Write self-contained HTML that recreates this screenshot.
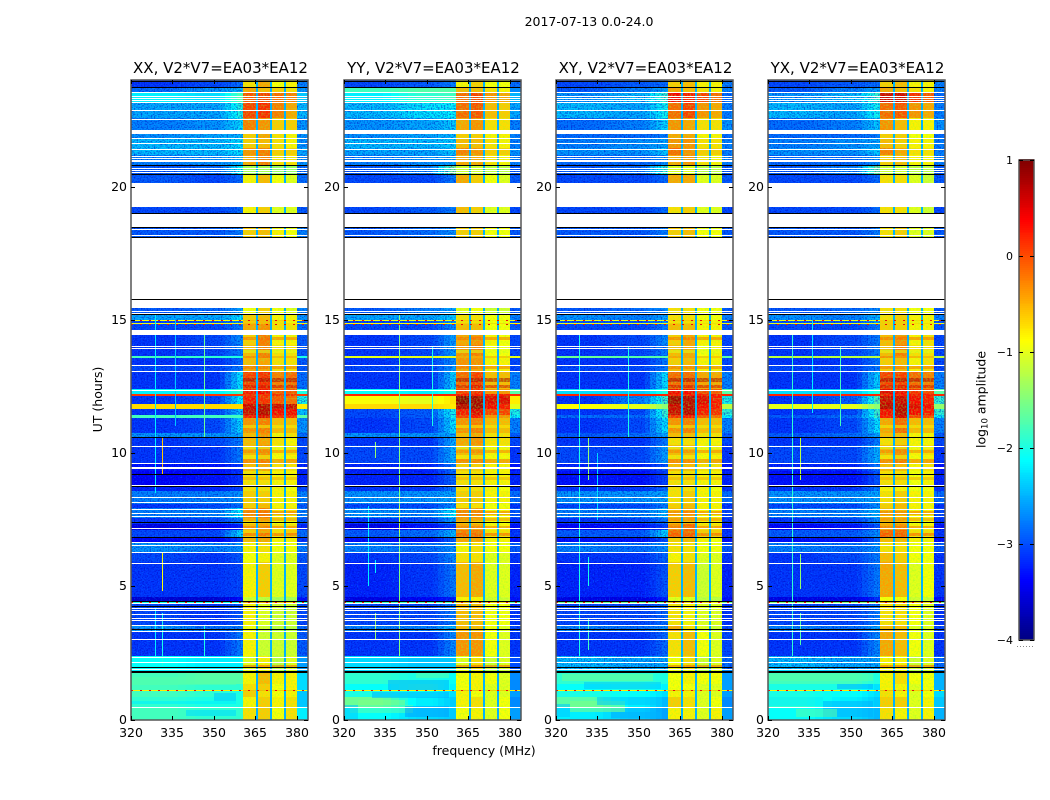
<!DOCTYPE html>
<html lang="en">
<head>
<meta charset="utf-8">
<title>2017-07-13 0.0-24.0</title>
<style>
html,body{margin:0;padding:0;background:#fff;width:1050px;height:800px;overflow:hidden}
svg{display:block}
text{font-family:"DejaVu Sans","Liberation Sans",sans-serif;fill:#000}
.cell{shape-rendering:crispEdges}
</style>
</head>
<body>
<svg id="figure" xmlns="http://www.w3.org/2000/svg" width="1050" height="800" viewBox="0 0 1050 800">
<defs>
<filter id="speckle" x="0" y="0" width="100%" height="100%" color-interpolation-filters="sRGB">
<feTurbulence type="fractalNoise" baseFrequency="0.75" numOctaves="1" seed="4"/>
<feColorMatrix type="matrix" values="0 0 0 0 0.02  0 0 0 0 0.5  0 0 0 0 1  3.4 0 0 0 -1.85"/>
</filter>
<filter id="speckle-dark" x="0" y="0" width="100%" height="100%" color-interpolation-filters="sRGB">
<feTurbulence type="fractalNoise" baseFrequency="0.7" numOctaves="1" seed="11"/>
<feColorMatrix type="matrix" values="0 0 0 0 0  0 0 0 0 0  0 0 0 0 0.75  3.4 0 0 0 -1.5"/>
</filter>
<filter id="speckle-band" x="0" y="0" width="100%" height="100%" color-interpolation-filters="sRGB">
<feTurbulence type="fractalNoise" baseFrequency="0.6" numOctaves="1" seed="7"/>
<feColorMatrix type="matrix" values="0 0 0 0 0.55  0 0 0 0 1  0 0 0 0 0.2  3 0 0 0 -1.25"/>
</filter>
</defs>
<text x="589" y="26" text-anchor="middle" font-size="12.5">2017-07-13 0.0-24.0</text>
<text x="484" y="755" text-anchor="middle" font-size="12.5">frequency (MHz)</text>
<text transform="translate(102 399.5) rotate(-90)" text-anchor="middle" font-size="12.5">UT (hours)</text>
<text transform="translate(985.5 399.5) rotate(-90)" text-anchor="middle" font-size="12.5">log<tspan font-size="8.5" dy="2">10</tspan><tspan dy="-2"> amplitude</tspan></text>
<g id="panels"></g>
<g id="colorbar"></g>
</svg>
<script>
// Time rows (UT hours)
const rowStart=[0,.43,.85,1.07,1.11,1.33,1.74,1.89,2.38,3.3,3.55,4.37,4.44,4.6,5.91,6.29,6.62,6.85,7.11,7.34,7.56,7.94,8.1,8.56,8.8,9.31,9.59,10.3,10.6,10.75,11.31,11.44,11.65,11.83,12.13,12.23,12.39,13.04,13.3,13.58,13.63,14.05,14.6,14.84,14.87,14.97,15,15.2,18.1,19,20.13,20.43,20.8,21.18,21.44,21.82,22.14,22.57,23.17,23.55,23.74];
const rowEnd=[.43,.85,1.07,1.11,1.33,1.74,1.89,2.38,3.3,3.55,4.37,4.44,4.6,5.91,6.29,6.62,6.85,7.11,7.34,7.56,7.94,8.1,8.56,8.8,9.31,9.59,10.3,10.6,10.75,11.31,11.44,11.65,11.83,12.13,12.23,12.39,13.04,13.3,13.58,13.63,14.05,14.43,14.84,14.87,14.97,15,15.2,15.44,18.48,19.23,20.43,20.8,21.18,21.44,21.82,21.97,22.57,23.17,23.55,23.74,24];
// Frequency columns (MHz) for each matrix column
const colStart=[320,340,355,360.4,365.8,370.9,376,380];
const colEnd=[340,355,360.4,365.1,370.2,375.3,380,384];
// Narrow notches between the on-band columns
const notchStart=[365.1,370.2,375.3];
const notchEnd=[365.8,370.9,376];
const notchLevel=-25;
// log10 amplitude x 10 : one row per time row, one value per frequency column
const ampXX=[
[-18,-19,-19,-7,-6,-9,-7,-22],[-19,-20,-20,-8,-6,-8,-7,-24],[-18,-19,-20,-6,-7,-9,-8,-24],[-8,-8,-8,-5,-5,-6,-6,-9],[-18,-19,-19,-7,-6,-9,-8,-23],[-18,-17,-17,-8,-5,-8,-8,-23],[-22,-22,-22,-9,-8,-12,-10,-25],[-21,-22,-22,-10,-8,-12,-10,-26],[-31,-31,-27,-8,-11,-11,-11,-29],[-26,-28,-27,-9,-11,-12,-12,-28],
[-30,-31,-29,-8,-10,-11,-11,-30],[-20,-20,-20,-4,-4,-6,-7,-20],[-36,-36,-33,-11,-12,-13,-13,-33],[-31,-31,-30,-8,-6,-10,-10,-30],[-30,-31,-29,-9,-8,-10,-10,-29],[-26,-27,-26,-8,-7,-9,-9,-27],[-34,-34,-30,-5,-4,-8,-8,-31],[-30,-30,-22,-6,-4,-7,-6,-28],[-35,-34,-32,-5,-4,-7,-7,-32],[-31,-30,-27,-7,-5,-9,-9,-29],
[-27,-27,-21,-3,-2,-7,-7,-27],[-31,-30,-28,-6,-5,-8,-8,-29],[-27,-27,-26,-6,-6,-8,-8,-27],[-32,-32,-30,-7,-7,-8,-9,-30],[-34,-33,-31,-7,-7,-8,-8,-32],[-33,-33,-31,-5,-4,-7,-7,-32],[-31,-31,-27,-5,-3,-8,-7,-30],[-31,-30,-27,-5,-4,-7,-8,-30],[-26,-26,-25,-5,-3,-8,-7,-28],[-31,-30,-22,-3,-2,-5,-5,-26],
[-18,-18,-18,3,5,2,2,-17],[-31,-30,-23,6,7,4,4,-24],[-7,-7,-7,6,7,6,6,-8],[-31,-30,-20,3,2,0,-1,-20],[1,1,1,2,2,2,2,1],[-22,-22,-18,3,4,0,0,-20],[-31,-31,-21,1,2,-2,-1,-28],[-30,-30,-27,-4,-4,-7,-7,-29],[-31,-31,-28,-5,-4,-7,-7,-29],[-18,-19,-20,-3,-2,-5,-5,-20],
[-31,-30,-27,-5,-2,-7,-7,-29],[-31,-30,-26,-6,-2,-8,-8,-29],[-30,-30,-27,-4,-3,-7,-7,-28],[-10,-10,-10,-5,-5,-7,-7,-10],[-30,-29,-26,-6,-5,-7,-8,-28],[-9,-9,-9,-5,-5,-6,-7,-9],[-25,-25,-22,-6,-5,-8,-8,-26],[-29,-28,-25,-9,-6,-9,-10,-27],[-29,-29,-27,-6,-5,-8,-9,-27],[-30,-30,-28,-8,-6,-10,-10,-29],
[-29,-30,-28,-8,-5,-9,-10,-28],[-29,-28,-20,-13,-13,-14,-14,-28],[-27,-26,-24,-4,-2,-7,-7,-26],[-24,-24,-22,-3,-2,-6,-6,-25],[-24,-24,-22,-6,-5,-7,-8,-26],[-26,-25,-24,-6,-4,-7,-8,-26],[-27,-26,-22,-2,-3,-6,-6,-26],[-25,-25,-19,1,2,-2,-4,-24],[-22,-23,-17,0,1,-1,-2,-24],[-28,-26,-24,-4,-5,-6,-7,-26],[-31,-30,-28,-7,-4,-9,-8,-27]];
const ampYY=[
[-21,-23,-24,-9,-8,-10,-9,-26],[-16,-22,-24,-8,-7,-10,-9,-27],[-20,-21,-23,-8,-9,-10,-10,-26],[-8,-8,-8,-5,-5,-6,-6,-8],[-21,-19,-22,-9,-8,-10,-10,-27],[-19,-20,-21,-9,-8,-9,-10,-27],[-23,-23,-23,-9,-8,-12,-11,-28],[-23,-24,-24,-10,-7,-11,-10,-30],[-31,-31,-26,-3,-3,-9,-10,-31],[-27,-27,-24,-5,-5,-9,-10,-30],
[-30,-30,-27,-5,-5,-9,-9,-31],[-18,-18,-17,-5,-5,-6,-7,-18],[-35,-34,-32,-8,-8,-11,-11,-33],[-32,-31,-27,-5,-4,-10,-10,-32],[-31,-30,-26,-7,-7,-10,-10,-31],[-27,-28,-26,-8,-7,-9,-9,-29],[-33,-33,-28,-4,-4,-8,-8,-33],[-29,-28,-24,-2,-2,-7,-7,-31],[-35,-33,-30,-4,-4,-8,-8,-33],[-31,-30,-25,-5,-6,-9,-9,-31],
[-26,-27,-21,-3,-3,-8,-8,-29],[-30,-30,-26,-7,-7,-9,-9,-31],[-26,-26,-25,-6,-6,-8,-8,-28],[-31,-31,-27,-7,-7,-8,-9,-31],[-32,-32,-28,-7,-7,-8,-8,-32],[-32,-32,-27,-6,-6,-8,-8,-33],[-30,-30,-24,-5,-4,-8,-8,-31],[-31,-31,-24,-4,-3,-7,-7,-30],[-26,-26,-25,-5,-4,-7,-7,-29],[-31,-30,-21,-3,-2,-5,-5,-27],
[-30,-29,-19,1,3,-3,-3,-21],[-30,-29,-19,3,5,1,1,-20],[-7,-7,-8,7,8,4,3,-10],[-9,-10,-7,9,8,5,5,-8],[2,2,2,3,3,3,3,2],[-21,-22,-19,1,2,-3,-3,-17],[-31,-31,-22,-1,1,-5,-5,-27],[-30,-30,-25,-4,-4,-8,-8,-30],[-31,-30,-26,-3,-3,-8,-8,-30],[-10,-10,-10,-4,-4,-6,-6,-10],
[-31,-30,-25,-3,-2,-9,-9,-30],[-31,-30,-25,-4,-3,-8,-9,-30],[-30,-30,-26,-5,-5,-9,-9,-29],[-9,-9,-9,-6,-6,-7,-7,-9],[-30,-29,-25,-7,-7,-9,-9,-29],[-10,-10,-10,-6,-6,-8,-8,-10],[-25,-25,-23,-7,-7,-9,-9,-27],[-29,-27,-25,-10,-9,-11,-11,-29],[-29,-28,-26,-6,-6,-9,-9,-29],[-30,-29,-27,-5,-6,-10,-10,-30],
[-30,-30,-27,-4,-6,-9,-10,-29],[-29,-27,-14,-11,-11,-12,-12,-29],[-27,-26,-25,-4,-4,-7,-8,-27],[-25,-25,-23,-2,-3,-6,-6,-26],[-24,-24,-23,-5,-5,-7,-8,-27],[-26,-25,-24,-6,-6,-8,-8,-27],[-26,-25,-23,-4,-3,-7,-7,-27],[-24,-22,-21,-1,0,-5,-6,-25],[-22,-19,-18,-1,1,-3,-4,-25],[-18,-17,-17,-5,-5,-7,-8,-27],[-30,-29,-27,-8,-6,-9,-9,-28]];
const ampXY=[
[-22,-24,-26,-8,-8,-10,-8,-26],[-17,-22,-25,-6,-7,-10,-9,-27],[-20,-21,-23,-8,-8,-10,-10,-26],[-8,-8,-8,-5,-5,-6,-6,-8],[-21,-20,-22,-9,-9,-10,-10,-26],[-19,-19,-20,-9,-8,-9,-9,-26],[-23,-24,-24,-9,-9,-12,-10,-27],[-24,-25,-25,-9,-7,-11,-10,-28],[-31,-31,-28,-7,-5,-9,-10,-30],[-27,-28,-26,-4,-7,-10,-11,-30],
[-30,-30,-28,-7,-8,-10,-10,-31],[-16,-16,-16,-5,-6,-7,-8,-16],[-35,-35,-32,-10,-10,-12,-12,-33],[-32,-32,-29,-6,-5,-11,-10,-32],[-31,-31,-28,-8,-7,-10,-10,-31],[-27,-28,-26,-7,-7,-9,-9,-29],[-33,-33,-29,-6,-5,-8,-9,-33],[-29,-29,-22,-1,-1,-6,-6,-31],[-34,-33,-30,-3,-1,-7,-7,-33],[-31,-30,-27,-5,-5,-8,-8,-31],
[-27,-27,-24,-5,-4,-8,-8,-30],[-30,-30,-27,-6,-5,-8,-8,-31],[-26,-26,-25,-7,-6,-8,-8,-28],[-31,-31,-28,-7,-7,-8,-9,-31],[-33,-33,-30,-7,-7,-8,-8,-32],[-32,-32,-29,-5,-5,-7,-7,-33],[-30,-30,-25,-5,-5,-8,-7,-31],[-31,-31,-27,-7,-7,-8,-8,-30],[-29,-28,-25,-5,-5,-7,-7,-29],[-31,-30,-21,-3,-2,-5,-5,-27],
[-28,-28,-18,2,3,0,-1,-21],[-31,-30,-17,6,7,3,2,-19],[-9,-10,-15,6,7,4,3,-12],[-31,-27,-17,8,7,5,3,-20],[2,2,2,3,3,3,3,2],[-23,-24,-19,4,4,1,0,-17],[-31,-31,-21,-1,-1,-4,-4,-27],[-30,-30,-27,-5,-5,-8,-8,-30],[-31,-31,-27,-6,-5,-8,-8,-30],[-16,-17,-17,-4,-4,-6,-6,-17],
[-31,-30,-27,-5,-4,-9,-8,-30],[-31,-30,-26,-6,-4,-8,-8,-30],[-30,-30,-27,-5,-5,-8,-8,-29],[-10,-10,-10,-6,-6,-7,-7,-10],[-29,-29,-26,-7,-7,-8,-8,-29],[-10,-10,-10,-6,-6,-7,-8,-10],[-26,-27,-25,-7,-7,-9,-9,-27],[-29,-28,-26,-7,-7,-9,-9,-29],[-29,-29,-27,-6,-5,-9,-9,-29],[-30,-30,-28,-7,-6,-10,-10,-30],
[-30,-30,-28,-4,-4,-10,-10,-29],[-29,-28,-18,-10,-10,-12,-12,-29],[-28,-28,-26,-4,-3,-7,-8,-27],[-26,-26,-23,-1,-3,-6,-6,-27],[-27,-26,-25,-3,-3,-7,-7,-27],[-28,-28,-27,-4,-4,-8,-8,-28],[-28,-27,-22,-3,-4,-7,-7,-26],[-24,-25,-20,-1,1,-3,-4,-27],[-26,-24,-18,4,3,1,-1,-28],[-29,-27,-25,-4,-5,-7,-8,-27],[-30,-29,-28,-6,-5,-8,-8,-27]];
const ampYX=[
[-21,-23,-25,-7,-8,-10,-8,-25],[-19,-22,-24,-6,-6,-10,-8,-24],[-20,-21,-23,-7,-8,-10,-9,-23],[-8,-8,-8,-5,-5,-6,-6,-8],[-20,-20,-23,-8,-8,-10,-9,-25],[-18,-18,-20,-8,-7,-9,-9,-25],[-23,-24,-24,-8,-9,-12,-10,-27],[-24,-25,-25,-8,-8,-11,-10,-28],[-31,-31,-26,-4,-5,-9,-10,-31],[-27,-28,-25,-5,-5,-10,-10,-30],
[-30,-30,-27,-7,-7,-9,-10,-31],[-15,-15,-15,-4,-5,-6,-7,-16],[-35,-35,-31,-9,-9,-11,-11,-33],[-31,-31,-27,-4,-5,-10,-9,-31],[-31,-30,-27,-5,-6,-9,-9,-31],[-27,-28,-26,-7,-7,-9,-9,-29],[-33,-33,-28,-5,-5,-8,-8,-33],[-29,-29,-26,-1,-1,-7,-7,-31],[-34,-33,-29,-4,-3,-8,-8,-33],[-31,-30,-26,-5,-5,-9,-9,-31],
[-27,-27,-24,-5,-5,-8,-8,-30],[-30,-30,-26,-6,-5,-8,-8,-31],[-26,-26,-25,-7,-6,-8,-8,-28],[-31,-31,-27,-8,-8,-9,-9,-31],[-33,-33,-29,-7,-7,-9,-8,-32],[-32,-32,-27,-5,-5,-8,-7,-33],[-30,-30,-24,-5,-3,-8,-7,-31],[-31,-31,-27,-7,-6,-8,-8,-30],[-29,-28,-25,-5,-5,-8,-8,-29],[-31,-30,-21,-4,-1,-5,-5,-27],
[-29,-28,-17,3,6,1,1,-21],[-31,-30,-17,4,7,4,3,-19],[-10,-10,-15,7,7,5,4,-14],[-31,-29,-16,6,6,4,3,-19],[2,2,2,3,3,3,3,2],[-23,-24,-19,5,4,2,1,-17],[-31,-31,-22,1,1,-1,-2,-27],[-30,-30,-27,-6,-5,-8,-7,-30],[-31,-31,-27,-6,-5,-8,-7,-30],[-12,-12,-12,-3,-3,-5,-5,-12],
[-31,-30,-27,-5,-2,-7,-7,-30],[-31,-30,-27,-5,-3,-8,-7,-30],[-30,-30,-27,-6,-6,-8,-8,-29],[-10,-10,-10,-6,-6,-7,-7,-10],[-29,-29,-25,-6,-6,-8,-8,-29],[-10,-10,-10,-6,-6,-7,-8,-10],[-26,-27,-24,-7,-6,-8,-8,-27],[-29,-28,-26,-7,-7,-9,-9,-29],[-29,-29,-27,-7,-6,-10,-10,-29],[-30,-30,-28,-7,-7,-10,-11,-30],
[-30,-30,-28,-7,-7,-10,-11,-29],[-29,-27,-15,-11,-11,-12,-12,-29],[-28,-28,-26,-6,-5,-8,-8,-27],[-26,-26,-23,-2,-4,-7,-7,-27],[-27,-26,-25,-5,-6,-8,-8,-27],[-28,-28,-27,-6,-6,-9,-9,-28],[-28,-27,-23,-3,-5,-8,-8,-26],[-24,-25,-20,-1,0,-3,-4,-27],[-26,-24,-18,6,6,2,0,-28],[-29,-27,-25,-4,-5,-7,-8,-27],[-30,-29,-28,-6,-5,-8,-8,-27]];
// Polarisation labels
const panelNames=['XX','YY','XY','YX'];
const panelAmps=[ampXX,ampYY,ampXY,ampYX];
// Low-band patches: [start MHz, end MHz, start hour, end hour, log10 amplitude x 10]
const patchesXX=[[320,358,1.3,1.6,-17],[340,358,.15,.35,-23],[320,358,.6,.7,-22],[350,358,.7,1,-24]];
const patchesYY=[[325,342,.55,.75,-15],[322,345,.25,.55,-17],[320,325,0,.55,-24],[342,358,.1,.5,-26],[336,358,1.11,1.48,-25],[346,358,1.55,1.74,-17],[330,358,.8,1.05,-25]];
const patchesXY=[[320,325,.1,.6,-24],[325,345,.3,.7,-15],[340,358,.05,.3,-25],[335,358,.55,.85,-24],[330,358,1.15,1.4,-24],[322,355,1.45,1.7,-16]];
const patchesYX=[[320,340,.5,.85,-22],[340,358,.1,.7,-25],[320,358,1.45,1.7,-17],[345,358,1.15,1.35,-25],[330,345,.1,.4,-17]];
const panelPatches=[patchesXX,patchesYY,patchesXY,patchesYX];
// Horizontal on-band structure: hour of each stripe and its log10 amplitude x 10
const stripeHours=[12.74,13.2,13.8,10.07,10.2,9.7,9.85,7.75,7.2,6.95,2,14.3,12.5,11,9.05,7.5];
const stripeLevels=[8,-1,-10,-2,-10,-1,-9,-1,-1,0,0,-1,6,-8,-4,-2];
// Narrowband spikes: [MHz, start hour, end hour, log10 amplitude x 10]
const spikesXX=[[328.7,8.5,15.2,-22],[328.7,2.4,4.2,-22],[331.3,9.2,10.6,-6],[331.3,4.82,6.25,-9],[331.3,2,4,-20],[335.9,11,15,-24],[346.5,10.6,14.6,-16],[346.5,2.4,3.5,-20]];
const spikesYY=[[328.8,5,8,-22],[331.2,9.8,10.4,-14],[331.2,3,4,-14],[331.2,5.5,6,-22],[340,2.4,15.2,-15],[351.9,11,14,-20],[340,7,8,-12]];
const spikesXY=[[328.3,2.4,14.5,-20],[331.5,9,10.6,-14],[331.5,2.6,3.8,-18],[331.5,5,6.1,-20],[335,7.5,10,-23],[346,10.6,14,-20]];
const spikesYX=[[328.7,2.4,14.5,-19],[331.5,9,10.6,-12],[331.5,2.8,4,-17],[331.5,4.9,6.2,-14],[335.9,11.5,15,-22],[346,11,14,-18]];
const panelSpikes=[spikesXX,spikesYY,spikesXY,spikesYX];
// Unflagged-out time ranges drawn empty
const gapStart=[14.43,15.44,18.48,19.23,21.97];
const gapEnd=[14.6,18.1,19,20.13,22.14];
// Single-integration flagged rows (white) and boundaries (black), in hours
const whiteHours=[23.55,23.4,23.32,23.25,23.17,22.87,22.53,21.84,21.63,21.41,21.15,21.07,21.01,20.96,20.71,20.62,20.56,18.42,18.2,15.33,15.26,14.03,13.95,13.31,13.07,12.36,10.27,9.61,9.47,9.44,8.81,8.36,8.17,7.89,7.76,7.64,7.17,6.65,6.56,6.27,5.86,4.36,4.2,4.11,3.95,3.81,3.73,3.53,3.33,3.01,2.36,2.15,1.91,1.77,0.46];
const blackHours=[23.96,23.75,20.8,20.47,19,18.48,18.1,15.77,15.2,10.59,9.21,8.75,7.4,6.84,4.45,4.27,3.38,1.97,1.83,1.8];
// Rows with dotted RFI
const dottedHours=[1.09,4.41,14.85,14.98];
// Axis ticks
const freqTicks=[320,335,350,365,380];
const hourTicks=[0,5,10,15,20];
const cbarTicks=[1,0,-1,-2,-3,-4];
const cbarTickLabels=['1','0','\u22121','\u22122','\u22123','\u22124'];

const SVGNS='http://www.w3.org/2000/svg';
const panelLeft=[131,344,556,768];
const panelWidth=177;
const plotTop=80, plotBottom=719.5;
const freqMin=320, freqMax=384, hourMin=0, hourMax=24, logMin=-4, logMax=1;
const cbarX=1019, cbarW=15, cbarTop=160, cbarBottom=640;
const cleanRowLevel=-24;

function yScale(t){return Math.round(plotBottom-(t-hourMin)/(hourMax-hourMin)*(plotBottom-plotTop));}
function xScale(p,f){return Math.round(panelLeft[p]+(f-freqMin)/(freqMax-freqMin)*panelWidth);}
function cbarY(v){return cbarBottom-(v-logMin)/(logMax-logMin)*(cbarBottom-cbarTop);}
function jet(v){
  const x=Math.max(0,Math.min(1,(v-logMin)/(logMax-logMin)));
  const c=d=>Math.round(255*Math.max(0,Math.min(1,1.5-Math.abs(4*x-d))));
  return 'rgb('+c(3)+','+c(2)+','+c(1)+')';
}
function mk(tag,parent,attrs){
  const el=document.createElementNS(SVGNS,tag);
  for(const k in attrs){el.setAttribute(k,attrs[k]);}
  parent.appendChild(el);
  return el;
}
function band(p,g,f0,f1,t0,t1,fill){
  const x=xScale(p,f0),y=yScale(t1);
  const el=mk('rect',g,{class:'cell',x:x,y:y,width:xScale(p,f1)-x,height:Math.max(1,yScale(t0)-y),fill:fill});
  
  
  return el;
}
// off-band columns are smoothed into one another when drawn
function drawOffBand(p,g,row,t0,t1){
  const a=row[0]/10,b=row[1]/10,c=row[2]/10;
  band(p,g,320,334,t0,t1,jet(a));
  for(let k=0;k<4;k++){band(p,g,334+3*k,337+3*k,t0,t1,jet(a+(b-a)*(k+.5)/4));}
  band(p,g,346,352,t0,t1,jet(b));
  for(let k=0;k<4;k++){band(p,g,352+2.1*k,352+2.1*(k+1),t0,t1,jet(b+(c-b)*(k+.5)/4));}
}
const panelsRoot=document.getElementById('panels');
panelNames.forEach((name,p)=>{
  const g=mk('g',panelsRoot,{});
  
  
  const amp=panelAmps[p];
  rowStart.forEach((t0,r)=>{
    const t1=rowEnd[r];
    drawOffBand(p,g,amp[r],t0,t1);
    for(let c=3;c<colStart.length;c++){
      band(p,g,colStart[c],colEnd[c],t0,t1,jet(amp[r][c]/10));
    }
  });
  // horizontal on-band structure
  stripeHours.forEach((t,i)=>{
    const s=band(p,g,360.4,380,t-0.06,t+0.06,jet(stripeLevels[i]/10));
    s.setAttribute('opacity','0.55');
  });
  // speckle texture over the off-band region
  [[freqMin,360.4],[380,freqMax]].forEach(pair=>{
    const x=xScale(p,pair[0]),w=xScale(p,pair[1])-x;
    const n1=mk('rect',g,{x:x,y:plotTop,width:w,height:plotBottom-plotTop,filter:'url(#speckle)',opacity:0.7});
    
    
    const n2=mk('rect',g,{x:x,y:plotTop,width:w,height:plotBottom-plotTop,filter:'url(#speckle-dark)',opacity:0.55});
    
    
  });
  // on-band texture
  const bandX=xScale(p,360.4),bandW=xScale(p,380)-bandX;
  const n3=mk('rect',g,{x:bandX,y:plotTop,width:bandW,height:plotBottom-plotTop,filter:'url(#speckle-band)',opacity:0.45});
  
  
  // bright rows are smooth: redraw their off-band part above the texture
  rowStart.forEach((t0,r)=>{
    if(amp[r][0]>cleanRowLevel){
      drawOffBand(p,g,amp[r],t0,rowEnd[r]);
      band(p,g,colStart[7],colEnd[7],t0,rowEnd[r],jet(amp[r][7]/10));
    }
  });
  panelPatches[p].forEach(q=>{
    const m=band(p,g,q[0],q[1],q[2],q[3],jet(q[4]/10));
    m.setAttribute('opacity','0.55');
  });
  // notches between on-band columns
  notchStart.forEach((f0,n)=>{
    rowStart.forEach((t0,r)=>{
      band(p,g,f0,notchEnd[n],t0,rowEnd[r],jet(notchLevel/10));
    });
  });
  // spikes
  panelSpikes[p].forEach(s=>{
    const x=xScale(p,s[0]),y=yScale(s[2]);
    const el=mk('rect',g,{class:'cell',x:x,y:y,width:1,height:yScale(s[1])-y,fill:jet(s[3]/10)});
    
    
  });
  // dotted RFI rows
  dottedHours.forEach(t=>{
    const y=yScale(t)+.5;
    const el=mk('line',g,{x1:xScale(p,freqMin),x2:xScale(p,freqMax),y1:y,y2:y,stroke:'#e8100c','stroke-width':1,'stroke-dasharray':'2 7'});
    
    
  });
  // flagged gaps
  gapStart.forEach((t0,i)=>{
    const y=yScale(gapEnd[i]);
    const el=mk('rect',g,{class:'cell',x:xScale(p,freqMin),y:y,width:panelWidth,height:yScale(t0)-y,fill:'#fff'});
    
    
  });
  whiteHours.forEach(t=>{
    const el=mk('rect',g,{class:'cell',x:xScale(p,freqMin),y:yScale(t),width:panelWidth,height:1,fill:'#fff'});
    
    
  });
  blackHours.forEach(t=>{
    const el=mk('rect',g,{class:'cell',x:xScale(p,freqMin),y:yScale(t),width:panelWidth,height:1,fill:'#000'});
    
    
  });
  // frame
  const x0=panelLeft[p],x1=x0+panelWidth,yT=plotTop,yB=Math.round(plotBottom);
  const frame=mk('rect',g,{x:x0,y:yT,width:panelWidth,height:yB-yT,fill:'none',stroke:'#555','stroke-width':1.5});
  
  
  // title
  const title=mk('text',g,{x:x0+panelWidth/2+1,y:73,'text-anchor':'middle','font-size':15});
  title.textContent=name+', V2*V7=EA03*EA12';
  
  
  // x ticks
  freqTicks.forEach(f=>{
    const x=xScale(p,f);
    [[yB,yB-4],[yT,yT+4]].forEach(pair=>{
      const tk=mk('line',g,{class:'cell',x1:x+.5,x2:x+.5,y1:pair[0],y2:pair[1],stroke:'#000','stroke-width':1});
      
      
    });
    const lb=mk('text',g,{x:x,y:737,'text-anchor':'middle','font-size':12.5});
    lb.textContent=f;
    
    
  });
  // y ticks
  hourTicks.forEach(t=>{
    const y=yScale(t);
    [[x0,x0+4],[x1,x1-4]].forEach(pair=>{
      const tk=mk('line',g,{class:'cell',x1:pair[0],x2:pair[1],y1:y+.5,y2:y+.5,stroke:'#000','stroke-width':1});
      
      
    });
    const lb=mk('text',g,{x:x0-4,y:y+4,'text-anchor':'end','font-size':12.5});
    lb.textContent=t;
    
    
  });
});
// Colorbar
const cb=document.getElementById('colorbar');
const cbarSteps=[];
for(let v=logMin;v<logMax;v+=0.02){cbarSteps.push(v);}
cbarSteps.forEach(v=>{
  const y0=cbarY(v+0.02),y1=cbarY(v);
  const el=mk('rect',cb,{class:'cell',x:cbarX,y:Math.floor(y0),width:cbarW,height:Math.ceil(y1)-Math.floor(y0),fill:jet(v+0.01)});
  
  
});
const cbFrame=mk('rect',cb,{x:cbarX,y:cbarTop,width:cbarW,height:cbarBottom-cbarTop,fill:'none',stroke:'#555','stroke-width':1.5});


cbarTicks.forEach((v,i)=>{
  const y=Math.round(cbarY(v));
  [[cbarX,cbarX+4],[cbarX+cbarW,cbarX+cbarW-4]].forEach(pair=>{
    const tk=mk('line',cb,{class:'cell',x1:pair[0],x2:pair[1],y1:y+.5,y2:y+.5,stroke:'#000','stroke-width':1});
    
    
  });
  const lb=mk('text',cb,{x:cbarX-6,y:y+4,'text-anchor':'end','font-size':11});
  lb.textContent=cbarTickLabels[i];
  
  
});
const dots=mk('line',cb,{x1:cbarX-2,x2:cbarX+cbarW,y1:646.5,y2:646.5,stroke:'#888','stroke-width':1,'stroke-dasharray':'1 2'});


</script>
</body>
</html>
